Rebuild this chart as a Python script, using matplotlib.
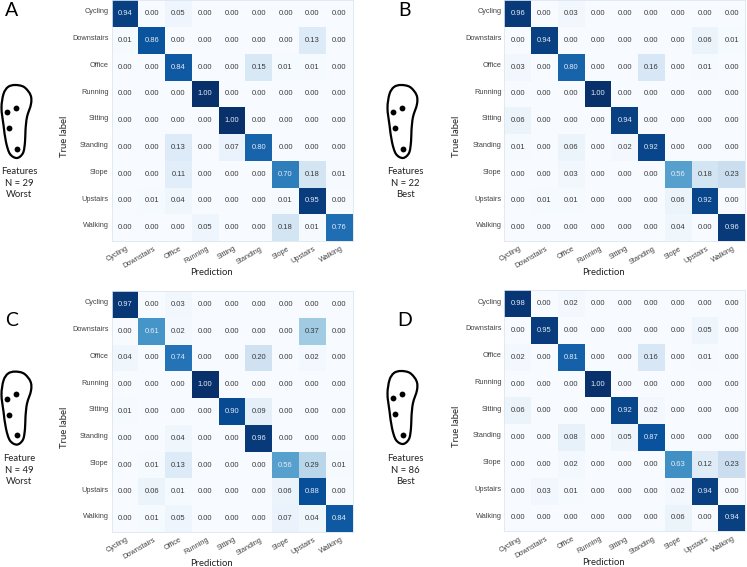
import numpy as np
import matplotlib
matplotlib.use("Agg")
import matplotlib.pyplot as plt
from matplotlib.path import Path
from matplotlib.patches import PathPatch

W, H = 747, 567

labels = ["Cycling", "Downstairs", "Office", "Running", "Sitting", "Standing", "Slope", "Upstairs", "Walking"]

cm_a = [[.94, 0, .05, 0, 0, 0, 0, 0, 0],
        [.01, .86, 0, 0, 0, 0, 0, .13, 0],
        [0, 0, .84, 0, 0, .15, .01, .01, 0],
        [0, 0, 0, 1, 0, 0, 0, 0, 0],
        [0, 0, 0, 0, 1, 0, 0, 0, 0],
        [0, 0, .13, 0, .07, .80, 0, 0, 0],
        [0, 0, .11, 0, 0, 0, .70, .18, .01],
        [0, .01, .04, 0, 0, 0, .01, .95, 0],
        [0, 0, 0, .05, 0, 0, .18, .01, .76]]
cm_b = [[.96, 0, .03, 0, 0, 0, 0, 0, 0],
        [0, .94, 0, 0, 0, 0, 0, .06, .01],
        [.03, 0, .80, 0, 0, .16, 0, .01, 0],
        [0, 0, 0, 1, 0, 0, 0, 0, 0],
        [.06, 0, 0, 0, .94, 0, 0, 0, 0],
        [.01, 0, .06, 0, .02, .92, 0, 0, 0],
        [0, 0, .03, 0, 0, 0, .56, .18, .23],
        [0, .01, .01, 0, 0, 0, .06, .92, 0],
        [0, 0, 0, 0, 0, 0, .04, 0, .96]]
cm_c = [[.97, 0, .03, 0, 0, 0, 0, 0, 0],
        [0, .61, .02, 0, 0, 0, 0, .37, 0],
        [.04, 0, .74, 0, 0, .20, 0, .02, 0],
        [0, 0, 0, 1, 0, 0, 0, 0, 0],
        [.01, 0, 0, 0, .90, .09, 0, 0, 0],
        [0, 0, .04, 0, 0, .96, 0, 0, 0],
        [0, .01, .13, 0, 0, 0, .56, .29, .01],
        [0, .06, .01, 0, 0, 0, .06, .88, 0],
        [0, .01, .05, 0, 0, 0, .07, .04, .84]]
cm_d = [[.98, 0, .02, 0, 0, 0, 0, 0, 0],
        [0, .95, 0, 0, 0, 0, 0, .05, 0],
        [.02, 0, .81, 0, 0, .16, 0, .01, 0],
        [0, 0, 0, 1, 0, 0, 0, 0, 0],
        [.06, 0, 0, 0, .92, .02, 0, 0, 0],
        [0, 0, .08, 0, .05, .87, 0, 0, 0],
        [0, 0, .02, 0, 0, 0, .63, .12, .23],
        [0, .03, .01, 0, 0, 0, .02, .94, 0],
        [0, 0, 0, 0, 0, 0, .06, 0, .94]]

fig = plt.figure(figsize=(W / 100, H / 100), dpi=100)
plt.rcParams['font.family'] = ['Liberation Sans', 'DejaVu Sans']


def heat(cm, left, top, right, bottom):
    ax = fig.add_axes([left / W, 1 - bottom / H, (right - left) / W, (bottom - top) / H])
    cm = np.array(cm)
    ax.pcolormesh(cm, cmap="Blues", vmin=0, vmax=1)
    ax.invert_yaxis()
    for i in range(9):
        for j in range(9):
            col = "#e3ebf5" if cm[i, j] > 0.5 else "#3a3a3a"
            ax.text(j + 0.5, i + 0.5, "%.2f" % cm[i, j], ha="center", va="center", fontsize=5.5, color=col)
    ax.set_xticks(np.arange(9) + 0.55)
    ax.set_xticklabels(labels, rotation=30, ha="right", rotation_mode="anchor", fontsize=5.3, color="#444444")
    ax.set_yticks(np.arange(9) + 0.4)
    ax.set_yticklabels(labels, fontsize=5.3, color="#444444")
    ax.tick_params(axis="x", length=0, pad=3)
    ax.tick_params(axis="y", length=0, pad=2)
    for s in ax.spines.values():
        s.set_color("#dce6f2")
        s.set_linewidth(0.6)
    ax.set_xlabel("Prediction", fontsize=6.8, family="Lato", color="#222222", va="center")
    ax.set_ylabel("True label", fontsize=6.8, family="Lato", color="#222222", va="center")
    # both labels sit off centre in the reference
    ax.xaxis.set_label_coords(0.413, -0.129)
    ax.yaxis.set_label_coords(-0.197, 0.436)
    return ax


heat(cm_a, 111.5, 0.3, 352.5, 241)
heat(cm_b, 504.3, 0.3, 745, 241)
heat(cm_c, 111.5, 291, 352.5, 532)
heat(cm_d, 504.3, 290.3, 745, 531.3)

# overlay in pixel coordinates for the insole sketches and captions
ov = fig.add_axes([0, 0, 1, 1], facecolor="none")
ov.set_xlim(0, W)
ov.set_ylim(H, 0)
ov.axis("off")


def insole(dx, dy):
    outline = [(15, 85), (24, 87), (30.5, 95), (31, 104), (27, 117), (25.5, 130), (25, 142), (23, 153),
               (17, 158), (10, 154), (6, 142), (3.5, 125), (1.5, 108), (3.5, 94), (8, 87)]
    pts = np.array(outline) + [dx, dy]
    n = len(pts)
    # closed catmull-rom turned into bezier segments
    verts = [pts[0]]
    codes = [Path.MOVETO]
    for i in range(n):
        p0, p1, p2, p3 = pts[i - 1], pts[i], pts[(i + 1) % n], pts[(i + 2) % n]
        verts += [p1 + (p2 - p0) / 6, p2 - (p3 - p1) / 6, p2]
        codes += [Path.CURVE4] * 3
    ov.add_patch(PathPatch(Path(verts, codes), fill=False, lw=1.6, ec="black"))
    for x, y in [(7.3, 112), (16.3, 107.7), (9.3, 128), (17, 148.7)]:
        ov.plot(x + dx, y + dy, "o", color="black", ms=4.2, mew=0)


insole(0, 0)
insole(386, 0)
insole(0, 286.6)
insole(386, 286)

captions = [(19, 171.7, ["Features", "N = 29", "Worst"]),
            (30.5 + 375, 171.7, ["Features", "N = 22", "Best"]),
            (19, 458.7, ["Feature", "N = 49", "Worst"]),
            (30.5 + 375, 458.7, ["Features", "N = 86", "Best"])]
for x, y, lines in captions:
    for k, s in enumerate(lines):
        ov.text(x, y + k * 11.5, s, ha="center", va="center", fontsize=6.8, family="Lato", color="#222222")

for s, x, y in [("A", 12, 11), ("B", 405, 11), ("C", 12, 321), ("D", 405, 321)]:
    ov.text(x, y, s, ha="center", va="center", fontsize=14, family="Lato", color="black")

fig.savefig("out.png", dpi=100)
